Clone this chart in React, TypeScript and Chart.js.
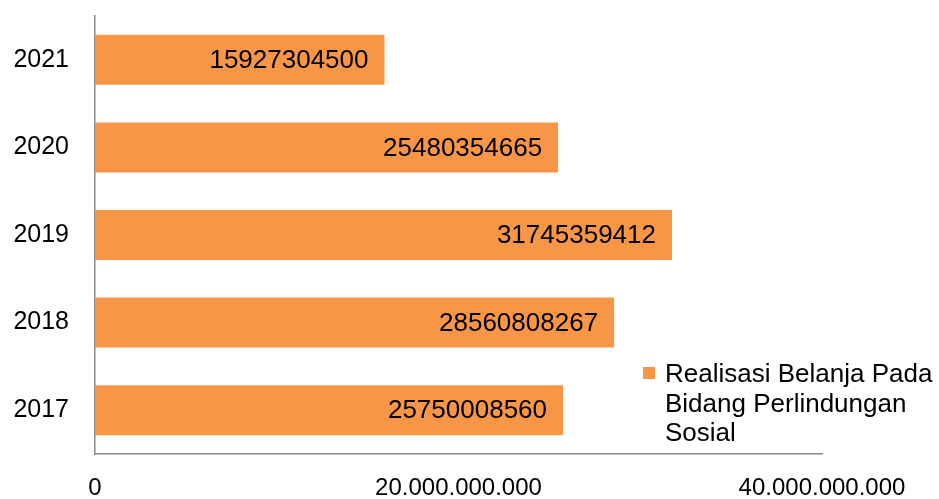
import React, { useEffect, useRef } from "react";
import { Chart, registerables } from "chart.js";

Chart.register(...registerables);

const categories: string[] = ["2017", "2018", "2019", "2020", "2021"];
const values: number[] = [25750008560, 28560808267, 31745359412, 25480354665, 15927304500];
const seriesLabel = "Realisasi Belanja Pada Bidang Perlindungan Sosial";
const xMin = 0;
const xMax = 40000000000;
const xStep = 20000000000;

const FONT = "'Liberation Sans', Arial, sans-serif";
const BAR_COLOR = "#F79646";
const AXIS_COLOR = "#8a8a8a";

function formatDots(v: number): string {
  return String(Math.round(v)).replace(/\B(?=(\d{3})+(?!\d))/g, ".");
}

const dataLabelPlugin = {
  id: "dataLabels",
  afterDatasetsDraw(chart: any) {
    const ctx = chart.ctx;
    const meta = chart.getDatasetMeta(0);
    ctx.save();
    ctx.font = `26px ${FONT}`;
    ctx.fillStyle = "#000";
    ctx.textAlign = "right";
    ctx.textBaseline = "middle";
    meta.data.forEach((el: any, i: number) => {
      ctx.fillText(String(chart.data.datasets[0].data[i]), el.x - 16, el.y + 1);
    });
    ctx.restore();
  },
};

const customLegendPlugin = {
  id: "customLegend",
  afterDraw(chart: any) {
    const ctx = chart.ctx;
    const label: string = chart.data.datasets[0].label;
    const color = chart.data.datasets[0].backgroundColor;
    ctx.save();
    ctx.font = `26px ${FONT}`;
    const maxWidth = 275;
    const words = label.split(" ");
    const lines: string[] = [];
    let cur = "";
    words.forEach((w) => {
      const test = cur ? cur + " " + w : w;
      if (ctx.measureText(test).width > maxWidth && cur) {
        lines.push(cur);
        cur = w;
      } else cur = test;
    });
    if (cur) lines.push(cur);
    const boxX = chart.width - 296;
    const textX = chart.width - 274;
    const firstBaseline = chart.height - 117;
    const lineH = 29.5;
    ctx.fillStyle = color;
    ctx.fillRect(boxX, firstBaseline - 15, 12, 12);
    ctx.fillStyle = "#000";
    ctx.textAlign = "left";
    ctx.textBaseline = "alphabetic";
    lines.forEach((ln, i) => ctx.fillText(ln, textX, firstBaseline + i * lineH));
    ctx.restore();
  },
};

export default function App() {
  const ref = useRef<HTMLCanvasElement | null>(null);
  useEffect(() => {
    if (!ref.current) return;
    const chart = new Chart(ref.current, {
      type: "bar",
      data: {
        labels: categories,
        datasets: [
          {
            label: seriesLabel,
            data: values,
            backgroundColor: BAR_COLOR,
            borderWidth: 0,
            barPercentage: 0.571,
            categoryPercentage: 1,
          },
        ],
      },
      options: {
        indexAxis: "y",
        animation: false,
        responsive: false,
        layout: { padding: { top: 16, right: 117, left: 0, bottom: 0 } },
        plugins: {
          legend: { display: false },
          tooltip: { enabled: false },
        },
        scales: {
          x: {
            min: xMin,
            max: xMax,
            grid: { display: false, drawTicks: false },
            border: { display: true, color: AXIS_COLOR, width: 1.5 },
            ticks: {
              stepSize: xStep,
              color: "#000",
              font: { family: FONT, size: 24 },
              padding: 20,
              maxRotation: 0,
              callback: (v: any) => formatDots(Number(v)),
            },
            afterFit: (s: any) => {
              s.height = 45;
            },
          },
          y: {
            reverse: true,
            grid: { display: false, drawTicks: false },
            border: { display: true, color: AXIS_COLOR, width: 1.5 },
            ticks: {
              color: "#000",
              font: { family: FONT, size: 25 },
              padding: 26,
            },
            afterFit: (s: any) => {
              s.width = 95;
              s.paddingTop = 0;
              s.paddingBottom = 0;
            },
          },
        },
      },
      plugins: [dataLabelPlugin, customLegendPlugin],
    });
    return () => chart.destroy();
  }, []);
  return (
    <div style={{ position: "fixed", left: 0, top: 0, width: 939, height: 499, background: "#fff" }}>
      <canvas ref={ref} width={939} height={499} />
    </div>
  );
}
